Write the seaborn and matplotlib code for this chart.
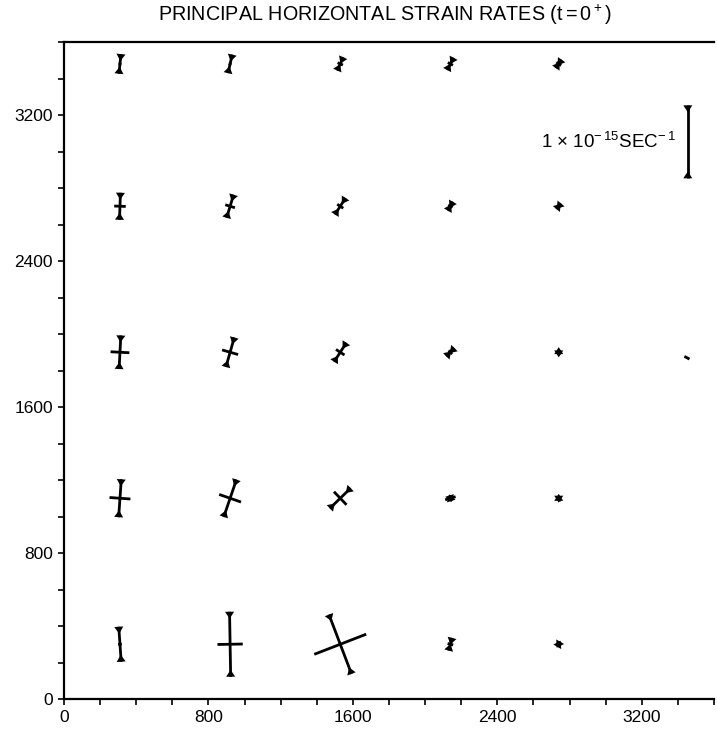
import numpy as np
import pandas as pd
import matplotlib
matplotlib.use("Agg")
import matplotlib.pyplot as plt
from matplotlib.ticker import MultipleLocator
import seaborn as sns

# grid nodes (x, y in metres)
col_x = [310, 920, 1530, 2140, 2740]
row_y = [300, 1100, 1900, 2700, 3480]

# principal compressive strain rate, units of 1e-15 /s  (rows bottom -> top)
comp_rate = [
    [0.48, 0.89, 0.87, 0.18, 0.08],
    [0.52, 0.54, 0.40, 0.08, 0.07],
    [0.46, 0.42, 0.31, 0.16, 0.05],
    [0.37, 0.33, 0.27, 0.14, 0.10],
    [0.27, 0.26, 0.20, 0.19, 0.14],
]
# principal extensional strain rate, same units
ext_rate = [
    [0.05, 0.35, 0.77, 0.08, 0.07],
    [0.29, 0.32, 0.25, 0.15, 0.03],
    [0.26, 0.23, 0.14, 0.07, 0.03],
    [0.16, 0.14, 0.10, 0.07, 0.05],
    [0.04, 0.04, 0.08, 0.08, 0.08],
]
# azimuth of the compression axis (deg from x axis), extension is at 90 deg to it
comp_azim = [
    [94, 91, 111, 75, 60],
    [86, 71, 44, 107, 90],
    [87, 74, 57, 45, 90],
    [88, 73, 57, 60, 50],
    [84, 77, 66, 62, 55],
]

# lone node at the right edge, only a small extension shows
extra_x = [3450]
extra_y = [1870]
extra_comp = [0.0]
extra_ext = [0.08]
extra_azim = [62]

# scale bar
bar_rate = 1.0
bar_x, bar_y = 3455, 3053
bar_label = r"1 $\times$ 10$^{-\,15}$SEC$^{-\,1}$"

title = r"PRINCIPAL HORIZONTAL STRAIN RATES (t$\,$=$\,$0$^+$)"
ticks = [0, 800, 1600, 2400, 3200]

L = 400.0          # map units per 1e-15 /s
tri_w, tri_h = 50.0, 38.0

sns.set_style("ticks")
plt.rcParams["font.family"] = ["Liberation Sans", "DejaVu Sans"]
plt.rcParams["mathtext.default"] = "regular"
plt.rcParams["text.color"] = "black"
plt.rcParams["axes.edgecolor"] = "black"
plt.rcParams["xtick.color"] = "black"
plt.rcParams["ytick.color"] = "black"

# collect nodes
nodes = []
for i, y0 in enumerate(row_y):
    for j, x0 in enumerate(col_x):
        nodes.append((x0, y0, comp_rate[i][j], ext_rate[i][j], comp_azim[i][j]))
for k in range(len(extra_x)):
    nodes.append((extra_x[k], extra_y[k], extra_comp[k], extra_ext[k], extra_azim[k]))
nodes.append((bar_x, bar_y, bar_rate, 0.0, 90))

segs = []
tris = []
for n, (x0, y0, c, e, az) in enumerate(nodes):
    a = np.deg2rad(az)
    d = np.array([np.cos(a), np.sin(a)])
    p = np.array([-np.sin(a), np.cos(a)])
    ctr = np.array([x0, y0])
    if c > 0:
        h = c * L / 2
        for s in (-1, 1):
            segs.append(dict(seg=f"c{n}", x=x0 + s * h * d[0], y=y0 + s * h * d[1]))
            end = ctr + s * h * d
            apex = end - s * tri_h * d
            tris.append(np.array([end + p * tri_w / 2, end - p * tri_w / 2, apex]))
    if e > 0:
        h = e * L / 2
        for s in (-1, 1):
            segs.append(dict(seg=f"e{n}", x=x0 + s * h * p[0], y=y0 + s * h * p[1]))
segs = pd.DataFrame(segs)

fig = plt.figure(figsize=(7.17, 7.29), dpi=100)
ax = fig.add_axes([64 / 717, 1 - 699 / 729, 650 / 717, 657 / 729])

sns.lineplot(data=segs, x="x", y="y", units="seg", estimator=None, sort=False,
             color="black", linewidth=2.0, solid_capstyle="butt", ax=ax)
for t in tris:
    ax.fill(t[:, 0], t[:, 1], color="black", lw=0)

ax.text(bar_x - 65, bar_y, bar_label, ha="right", va="center", fontsize=13.5)

ax.set_xlim(0, 3600)
ax.set_ylim(0, 3600)
ax.set_xticks(ticks)
ax.set_yticks(ticks)
ax.xaxis.set_minor_locator(MultipleLocator(200))
ax.yaxis.set_minor_locator(MultipleLocator(200))
ax.tick_params(which="both", direction="out", length=4, width=1.2, labelsize=12.5, pad=4)
ax.set(xlabel="", ylabel="")
for sp in ax.spines.values():
    sp.set_linewidth(1.6)
sns.despine(ax=ax, top=False, right=True)

fig.text(385 / 717, 1 - 15 / 729, title, ha="center", va="center", fontsize=14.2)

fig.savefig("out.png", dpi=100)
